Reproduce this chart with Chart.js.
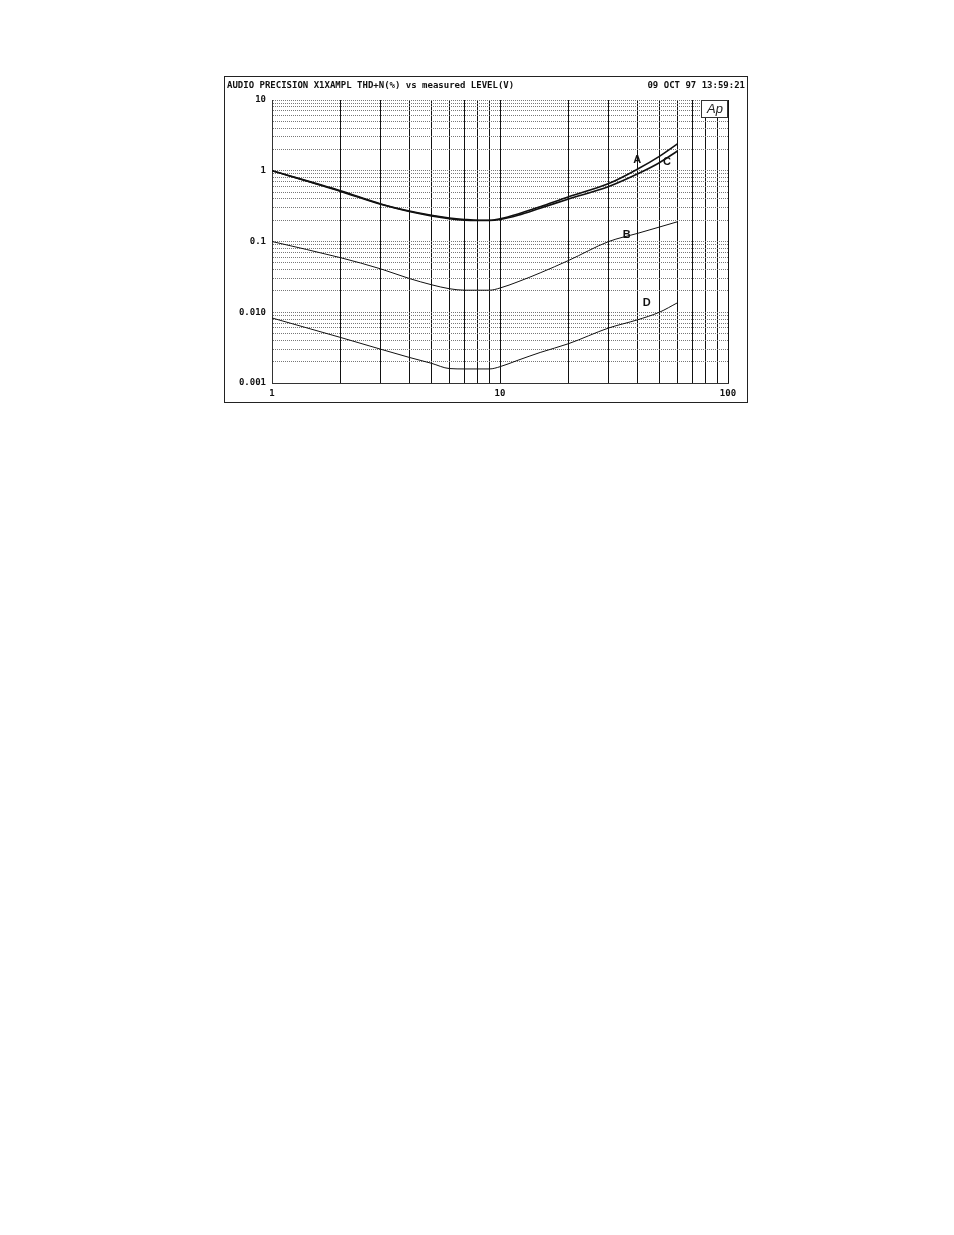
<!DOCTYPE html>
<html>
<head>
<meta charset="utf-8">
<script src="https://cdn.jsdelivr.net/npm/chart.js@4.4.0/dist/chart.umd.min.js"></script>
<style>
  body { margin: 0; background: #fff; }
  #box { position: absolute; left: 224px; top: 76px; width: 522px; height: 325px; border: 1px solid #222; }
  #title { position: absolute; left: 2px; top: 3px; width: 518px; font: bold 9px "DejaVu Sans Mono", monospace; color: #111; }
  #title span { float: right; }
</style>
</head>
<body>
<div id="box">
  <div id="title">AUDIO PRECISION X1XAMPL THD+N(%) vs measured LEVEL(V)<span>09 OCT 97 13:59:21</span></div>
  <canvas id="thd" width="522" height="325"></canvas>
</div>
<script>
// measured level (V)
var levels = [1, 2, 3, 4, 5, 6, 7, 8, 9, 10, 12, 15, 20, 30, 40, 50, 60];
// THD+N (%) per curve
var curveA = [1.0, 0.52, 0.34, 0.27, 0.235, 0.215, 0.205, 0.2, 0.2, 0.21, 0.245, 0.31, 0.43, 0.66, 1.05, 1.6, 2.4];
var curveC = [1.0, 0.51, 0.335, 0.265, 0.23, 0.21, 0.2, 0.198, 0.198, 0.205, 0.235, 0.295, 0.4, 0.6, 0.9, 1.3, 1.9];
var curveB = [0.1, 0.059, 0.041, 0.03, 0.0245, 0.0215, 0.0205, 0.0205, 0.0205, 0.022, 0.027, 0.036, 0.054, 0.1, 0.13, 0.16, 0.19];
var curveD = [0.0083, 0.0044, 0.003, 0.0023, 0.0019, 0.0016, 0.00158, 0.00158, 0.00158, 0.0017, 0.0021, 0.0027, 0.0036, 0.006, 0.0078, 0.01, 0.0136];
var xTicks = [1, 2, 3, 4, 5, 6, 7, 8, 9, 10, 20, 30, 40, 50, 60, 70, 80, 90, 100];
var yTicks = [];
[0.001, 0.01, 0.1, 1].forEach(function (d) {
    for (var k = 1; k < 10; k++) yTicks.push(+(d * k).toPrecision(3));
});
yTicks.push(10);
var xLabels = { 1: '1', 10: '10', 100: '100' };
var yLabels = { 10: '10', 1: '1', 0.1: '0.1', 0.01: '0.010', 0.001: '0.001' };
var curveTags = [['A', 40, 1.4], ['C', 54, 1.35], ['B', 36, 0.125], ['D', 44, 0.0135]];

function toPts(ys) {
    return levels.map(function (x, i) { return { x: x, y: ys[i] }; });
}

var labelPlugin = {
    id: 'labels',
    afterDraw: function (chart) {
        var ctx = chart.ctx, xs = chart.scales.x, ys = chart.scales.y;
        ctx.save();
        ctx.fillStyle = '#111';
        ctx.font = 'bold 9px "DejaVu Sans Mono", monospace';
        ctx.textAlign = 'center';
        ctx.textBaseline = 'top';
        Object.keys(xLabels).forEach(function (v) {
            ctx.fillText(xLabels[v], xs.getPixelForValue(+v), chart.chartArea.bottom + 6);
        });
        ctx.textAlign = 'right';
        ctx.textBaseline = 'middle';
        Object.keys(yLabels).forEach(function (v) {
            ctx.fillText(yLabels[v], chart.chartArea.left - 6, ys.getPixelForValue(+v));
        });
        ctx.font = 'bold 11px Arial, sans-serif';
        ctx.textAlign = 'center';
        curveTags.forEach(function (t) {
            ctx.fillText(t[0], xs.getPixelForValue(t[1]), ys.getPixelForValue(t[2]));
        });
        // Ap logo
        var r = chart.chartArea.right;
        ctx.fillStyle = '#fff';
        ctx.fillRect(r - 26, chart.chartArea.top + 1, 25, 16);
        ctx.strokeStyle = '#333';
        ctx.lineWidth = 1;
        ctx.strokeRect(r - 26.5, chart.chartArea.top + 0.5, 26, 17);
        ctx.fillStyle = '#222';
        ctx.font = 'italic 13px Arial, sans-serif';
        ctx.fillText('Ap', r - 13, chart.chartArea.top + 9);
        ctx.restore();
    }
};

function ds(ys, w) {
    return { data: toPts(ys), borderColor: '#111', borderWidth: w, pointRadius: 0, cubicInterpolationMode: 'monotone', fill: false };
}

new Chart(document.getElementById('thd'), {
    type: 'line',
    data: { datasets: [ds(curveA, 1.6), ds(curveC, 1.6), ds(curveB, 1), ds(curveD, 1)] },
    options: {
        responsive: false,
        animation: false,
        layout: { padding: { left: 47, top: 23, right: 19, bottom: 19 } },
        plugins: { legend: { display: false }, tooltip: { enabled: false } },
        scales: {
            x: {
                type: 'logarithmic', min: 1, max: 100,
                afterBuildTicks: function (s) { s.ticks = xTicks.map(function (v) { return { value: v }; }); },
                ticks: { display: false },
                grid: { color: '#111', lineWidth: 1, drawTicks: false },
                border: { color: '#333' }
            },
            y: {
                type: 'logarithmic', min: 0.001, max: 10,
                afterBuildTicks: function (s) { s.ticks = yTicks.map(function (v) { return { value: v }; }); },
                ticks: { display: false },
                grid: { color: '#777', lineWidth: 1, drawTicks: false },
                border: { color: '#333', dash: [1, 1] }
            }
        }
    },
    plugins: [labelPlugin]
});
</script>
</body>
</html>
